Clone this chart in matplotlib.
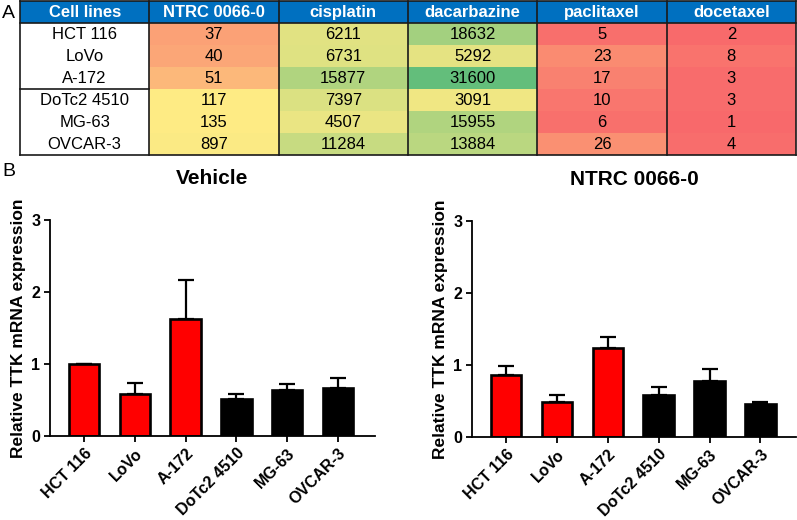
import numpy as np
import matplotlib.pyplot as plt
from matplotlib.colors import LinearSegmentedColormap, TwoSlopeNorm

plt.rcParams['font.family'] = ['Liberation Sans', 'DejaVu Sans']

# table data
headers = ["Cell lines", "NTRC 0066-0", "cisplatin", "dacarbazine", "paclitaxel", "docetaxel"]
cell_lines = ["HCT 116", "LoVo", "A-172", "DoTc2 4510", "MG-63", "OVCAR-3"]
ntrc = [37, 40, 51, 117, 135, 897]
cisplatin = [6211, 6731, 15877, 7397, 4507, 11284]
dacarbazine = [18632, 5292, 31600, 3091, 15955, 13884]
paclitaxel = [5, 23, 17, 10, 6, 26]
docetaxel = [2, 8, 3, 3, 1, 4]

# bar data
vehicle_mean = [1.0, 0.58, 1.62, 0.51, 0.64, 0.66]
vehicle_err = [0.0, 0.16, 0.55, 0.07, 0.08, 0.14]
ntrc_mean = [0.86, 0.49, 1.23, 0.59, 0.78, 0.46]
ntrc_err = [0.13, 0.10, 0.16, 0.10, 0.16, 0.03]
bar_colors = ["#ff0000", "#ff0000", "#ff0000", "black", "black", "black"]

W, H = 797, 520
fig = plt.figure(figsize=(W / 100, H / 100), dpi=100)

# ---- panel A: heat map table ----
vals = np.array([ntrc, cisplatin, dacarbazine, paclitaxel, docetaxel]).T
cmap = LinearSegmentedColormap.from_list("rdylgn", ["#F8696B", "#FFEB84", "#63BE7B"])
norm = TwoSlopeNorm(vmin=vals.min(), vcenter=np.median(vals), vmax=vals.max())

tx0, tx1, ty0, ty1 = 20, 796, 1, 155
axt = fig.add_axes([tx0 / W, 1 - ty1 / H, (tx1 - tx0) / W, (ty1 - ty0) / H])
ncol = len(headers)
nrow = len(cell_lines)
axt.set_xlim(0, ncol)
axt.set_ylim(nrow + 1, 0)
axt.axis("off")

axt.add_patch(plt.Rectangle((0, 0), ncol, 1, color="#0070C0", lw=0))
for j, h in enumerate(headers):
    axt.text(j + 0.5, 0.52, h, ha="center", va="center", color="white",
             fontsize=12, fontweight="bold")
for i in range(nrow):
    axt.text(0.5, i + 1.52, cell_lines[i], ha="center", va="center", fontsize=12)
    for j in range(vals.shape[1]):
        axt.add_patch(plt.Rectangle((j + 1, i + 1), 1, 1, color=cmap(norm(vals[i, j])), lw=0))
        axt.text(j + 1.5, i + 1.52, str(vals[i, j]), ha="center", va="center", fontsize=12)

lc = "#1a1a1a"
for j in range(ncol + 1):
    axt.plot([j, j], [0, nrow + 1], color=lc, lw=1.2, clip_on=False)
axt.plot([0, ncol], [0, 0], color=lc, lw=1.2, clip_on=False)
axt.plot([0, ncol], [1, 1], color=lc, lw=1.2, clip_on=False)
axt.plot([0, ncol], [nrow + 1, nrow + 1], color=lc, lw=1.2, clip_on=False)
axt.plot([0, 1], [4, 4], color=lc, lw=1.2, clip_on=False)

fig.text(2 / W, 1 - 13 / H, "A", fontsize=14, va="center", ha="left")
fig.text(2 / W, 1 - 172 / H, "B", fontsize=14, va="center", ha="left")

# ---- panel B: bar charts ----
def bar_panel(rect, means, errs, title, xlim):
    ax = fig.add_axes(rect)
    x = np.arange(len(cell_lines))
    ax.errorbar(x, means, yerr=[np.zeros(len(errs)), errs], fmt="none",
                ecolor="black", elinewidth=1.6, capsize=6, capthick=1.6, zorder=1)
    ax.bar(x, means, width=0.6, color=bar_colors, edgecolor="black", linewidth=1.9, zorder=2)
    ax.set_xlim(*xlim)
    ax.set_ylim(0, 3)
    ax.set_yticks([0, 1, 2, 3])
    ax.set_xticks(x)
    ax.set_xticklabels(cell_lines, rotation=45, ha="right", rotation_mode="anchor",
                       fontsize=11.5, fontweight="bold")
    for lab in ax.get_yticklabels():
        lab.set_fontweight("bold")
        lab.set_fontsize(11.5)
    ax.spines["top"].set_visible(False)
    ax.spines["right"].set_visible(False)
    ax.spines["left"].set_linewidth(1.3)
    ax.spines["bottom"].set_linewidth(1.3)
    ax.tick_params(axis="both", width=1.3, length=4.5, pad=2.5)
    ax.set_ylabel("Relative TTK mRNA expression", fontsize=12.5, fontweight="bold", labelpad=4)
    ax.set_title(title, fontsize=15, fontweight="bold", pad=26)
    return ax

bar_panel([50 / W, 1 - 436 / H, 325 / W, 216 / H], vehicle_mean, vehicle_err,
          "Vehicle", (-0.67, 5.73))
bar_panel([472 / W, 1 - 437 / H, 324 / W, 216 / H], ntrc_mean, ntrc_err,
          "NTRC 0066-0", (-0.67, 5.7))

fig.savefig("out.png", dpi=100)
